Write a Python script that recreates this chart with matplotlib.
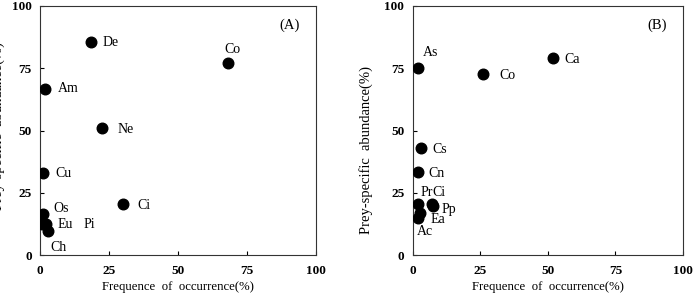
"""Prey-specific abundance vs frequence of occurrence, two panels."""

import matplotlib
matplotlib.use("Agg")
import matplotlib.pyplot as plt


plt.rcParams["font.family"] = ["Liberation Serif", "DejaVu Serif"]

# panel A
labels_a = ["De", "Co", "Am", "Ne", "Cu", "Ci", "Os", "Eu", "Pi", "Ch"]
freq_a = [18.4, 68.1, 1.8, 22.6, 1.0, 30.1, 1.0, 0.6, 2.0, 2.8]
abund_a = [85.4, 77.0, 66.5, 51.1, 33.1, 20.6, 16.6, 12.4, 12.4, 9.8]

# panel B
labels_b = ["As", "Co", "Ca", "Cs", "Cn", "Pr", "Ci", "Pp", "Ea", "Ac"]
freq_b = [1.8, 26.1, 51.8, 3.0, 1.8, 1.8, 7.0, 7.4, 2.8, 1.8]
abund_b = [75.2, 72.8, 79.2, 43.1, 33.3, 20.5, 20.5, 19.8, 17.0, 14.7]

ticks = [0, 25, 50, 75, 100]

# label offsets in pixels (dx, dy)
offsets_a = {
    "De": (12, 0), "Co": (-4, 14), "Am": (13, 1), "Ne": (15, -2),
    "Cu": (13, -1), "Ci": (14, -2), "Os": (11, 5), "Eu": (16, 0),
    "Pi": (38, 0), "Ch": (3, -17),
}
offsets_b = {
    "As": (5, 15), "Co": (16, -2), "Ca": (12, -2), "Cs": (12, -2),
    "Cn": (11, -1), "Pr": (3, 11), "Ci": (1, 11), "Pp": (9, -4),
    "Ea": (10, -7), "Ac": (-1, -13),
}

fig = plt.figure(figsize=(6.97, 2.95), dpi=100)
ax_a = fig.add_axes([40 / 697, 40 / 295, 276 / 697, 249 / 295])
ax_b = fig.add_axes([412.7 / 697, 40 / 295, 270.3 / 697, 249 / 295])


def draw_panel(ax, xs, ys, names, offsets, tag):
    ax.scatter(xs, ys, s=58, color="black", zorder=3)
    for x, y, name in zip(xs, ys, names):
        dx, dy = offsets[name]
        ax.annotate(name, (x, y), xytext=(dx * 0.72, dy * 0.72),
                    textcoords="offset points", ha="left", va="center",
                    fontsize=10)
    ax.set_xlim(0, 100)
    ax.set_ylim(0, 100)
    ax.set_xticks(ticks)
    ax.set_yticks(ticks)
    ax.tick_params(direction="in", length=3, width=0.8, labelsize=9.5,
                   top=False, right=False)
    ax.tick_params(axis="x", pad=7)
    ax.tick_params(axis="y", pad=6)
    for lab in ax.get_xticklabels() + ax.get_yticklabels():
        lab.set_fontweight("bold")
    for sp in ax.spines.values():
        sp.set_linewidth(0.8)
        sp.set_color("#333333")
    ax.set_xlabel("Frequence  of  occurrence(%)", fontsize=9.2, labelpad=3)
    ax.text(90.5, 92.4, tag, fontsize=10.5, ha="center", va="center")


draw_panel(ax_a, freq_a, abund_a, labels_a, offsets_a, "(A)")
draw_panel(ax_b, freq_b, abund_b, labels_b, offsets_b, "(B)")

# the left panel's y label sits half outside the figure, as in the source
ax_a.set_ylabel("Prey-specific  abundance(%)", fontsize=10.5)
ax_a.yaxis.set_label_coords(-35 / 276, 0.52)
ax_b.set_ylabel("Prey-specific  abundance(%)", fontsize=10.5)
ax_b.yaxis.set_label_coords((373 - 412.7) / 270.3, 0.42)

fig.savefig("out.png", dpi=100)
